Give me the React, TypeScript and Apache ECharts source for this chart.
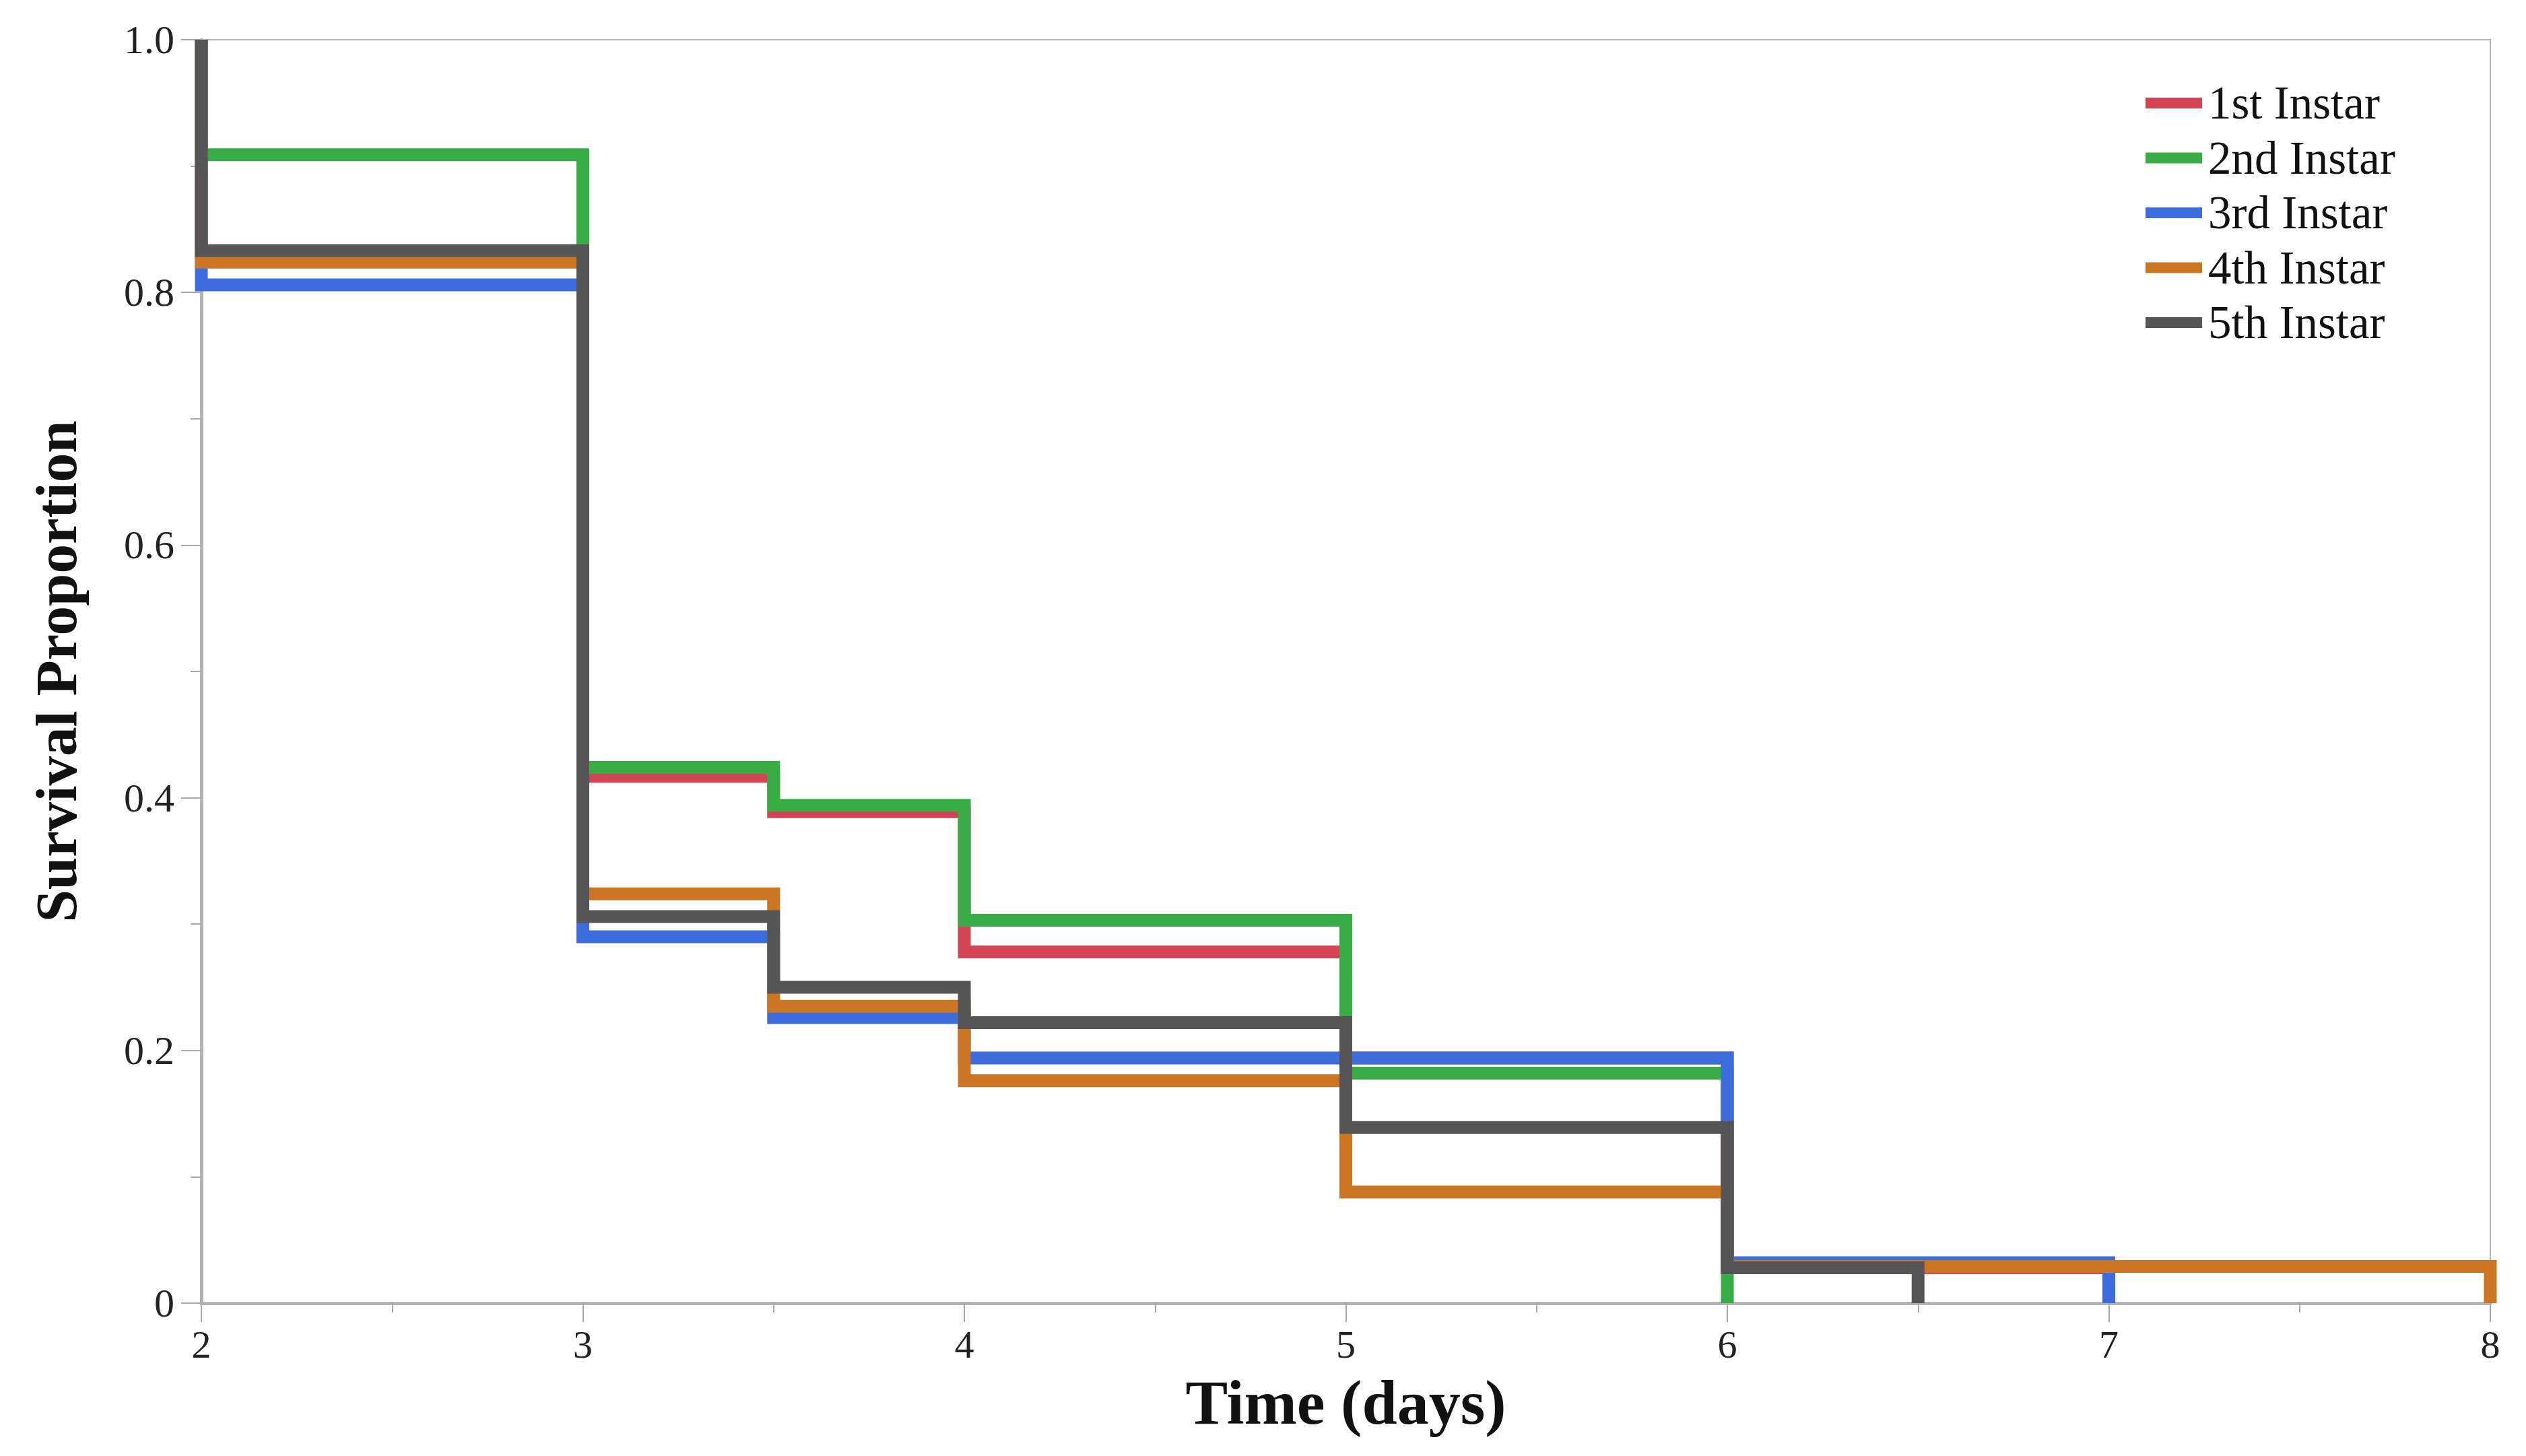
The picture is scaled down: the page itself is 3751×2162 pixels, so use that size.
import React, { useEffect, useRef } from "react";
import * as echarts from "echarts";

// ---- Data (Kaplan–Meier step points: time, survival proportion) ----
const seriesNames = ["1st Instar", "2nd Instar", "3rd Instar", "4th Instar", "5th Instar"];

const firstTimes = [2, 2, 3, 3.5, 4, 5, 6, 7];
const firstSurvival = [1, 0.833, 0.417, 0.389, 0.278, 0.194, 0.028, 0];

const secondTimes = [2, 2, 3, 3.5, 4, 5, 6];
const secondSurvival = [1, 0.909, 0.424, 0.394, 0.303, 0.182, 0];

const thirdTimes = [2, 2, 3, 3.5, 4, 6, 7];
const thirdSurvival = [1, 0.806, 0.29, 0.226, 0.194, 0.032, 0];

const fourthTimes = [2, 2, 3, 3.5, 4, 5, 6, 8];
const fourthSurvival = [1, 0.824, 0.324, 0.235, 0.176, 0.088, 0.029, 0];

const fifthTimes = [2, 2, 3, 3.5, 4, 5, 6, 6.5];
const fifthSurvival = [1, 0.833, 0.306, 0.25, 0.222, 0.139, 0.028, 0];

const xTicks = [2, 3, 4, 5, 6, 7, 8];
const yTicks = [0, 0.2, 0.4, 0.6, 0.8, 1.0];

const seriesTimes = [firstTimes, secondTimes, thirdTimes, fourthTimes, fifthTimes];
const seriesSurvival = [firstSurvival, secondSurvival, thirdSurvival, fourthSurvival, fifthSurvival];

// ---- Styles ----
const colors = ["#D44454", "#38AD45", "#3D6CDC", "#CC7624", "#555555"];
const serif = "'Liberation Serif', 'Times New Roman', serif";

export default function App() {
  const ref = useRef<HTMLDivElement>(null);

  useEffect(() => {
    if (!ref.current) return;
    const chart = echarts.init(ref.current, null, { renderer: "svg" });

    const series = seriesNames.map((name, i) => ({
      name,
      type: "line",
      step: "end",
      showSymbol: false,
      symbol: "none",
      clip: true,
      z: 2 + i,
      lineStyle: { color: colors[i], width: 19, cap: "butt", join: "miter" },
      itemStyle: { color: colors[i] },
      data: seriesTimes[i].map((t, k) => [t, seriesSurvival[i][k]]),
    }));

    chart.setOption({
      animation: false,
      backgroundColor: "#ffffff",
      color: colors,
      grid: {
        left: 299,
        right: 53,
        top: 59,
        bottom: 227,
        show: true,
        borderColor: "#b8b8b8",
        borderWidth: 2,
        backgroundColor: "transparent",
      },
      legend: {
        orient: "vertical",
        left: 3181,
        top: 113,
        icon: "rect",
        itemWidth: 84,
        itemHeight: 16,
        itemGap: 11.5,
        textStyle: {
          fontFamily: serif,
          fontSize: 69,
          lineHeight: 70,
          color: "#111",
          padding: [0, 0, 0, 4],
        },
        data: seriesNames,
      },
      xAxis: {
        type: "value",
        min: xTicks[0],
        max: xTicks[xTicks.length - 1],
        interval: 1,
        name: "Time (days)",
        nameLocation: "middle",
        nameGap: 100,
        nameTextStyle: { fontFamily: serif, fontSize: 94, fontWeight: "bold", color: "#111" },
        axisLine: { show: true, lineStyle: { color: "#b4b4b4", width: 5 } },
        axisTick: { show: true, length: 28, lineStyle: { color: "#a8a8a8", width: 2 } },
        minorTick: { show: true, splitNumber: 2, length: 14, lineStyle: { color: "#a8a8a8", width: 2 } },
        splitLine: { show: false },
        axisLabel: {
          fontFamily: serif,
          fontSize: 58,
          color: "#222",
          margin: 32,
          formatter: (v: number) => String(v),
        },
      },
      yAxis: {
        type: "value",
        min: yTicks[0],
        max: yTicks[yTicks.length - 1],
        interval: 0.2,
        name: "Survival Proportion",
        nameLocation: "middle",
        nameRotate: 90,
        nameGap: 172,
        nameTextStyle: { fontFamily: serif, fontSize: 87, fontWeight: "bold", color: "#111" },
        axisLine: { show: true, lineStyle: { color: "#b4b4b4", width: 5 } },
        axisTick: { show: true, length: 30, lineStyle: { color: "#a8a8a8", width: 2 } },
        minorTick: { show: true, splitNumber: 2, length: 16, lineStyle: { color: "#a8a8a8", width: 2 } },
        splitLine: { show: false },
        axisLabel: {
          fontFamily: serif,
          fontSize: 60,
          color: "#222",
          margin: 40,
          formatter: (v: number) => (v === 0 ? "0" : v.toFixed(1)),
        },
      },
      series,
    });

    return () => chart.dispose();
  }, []);

  return (
    <div
      ref={ref}
      style={{ position: "fixed", left: 0, top: 0, width: 3751, height: 2162, background: "#fff" }}
    />
  );
}
